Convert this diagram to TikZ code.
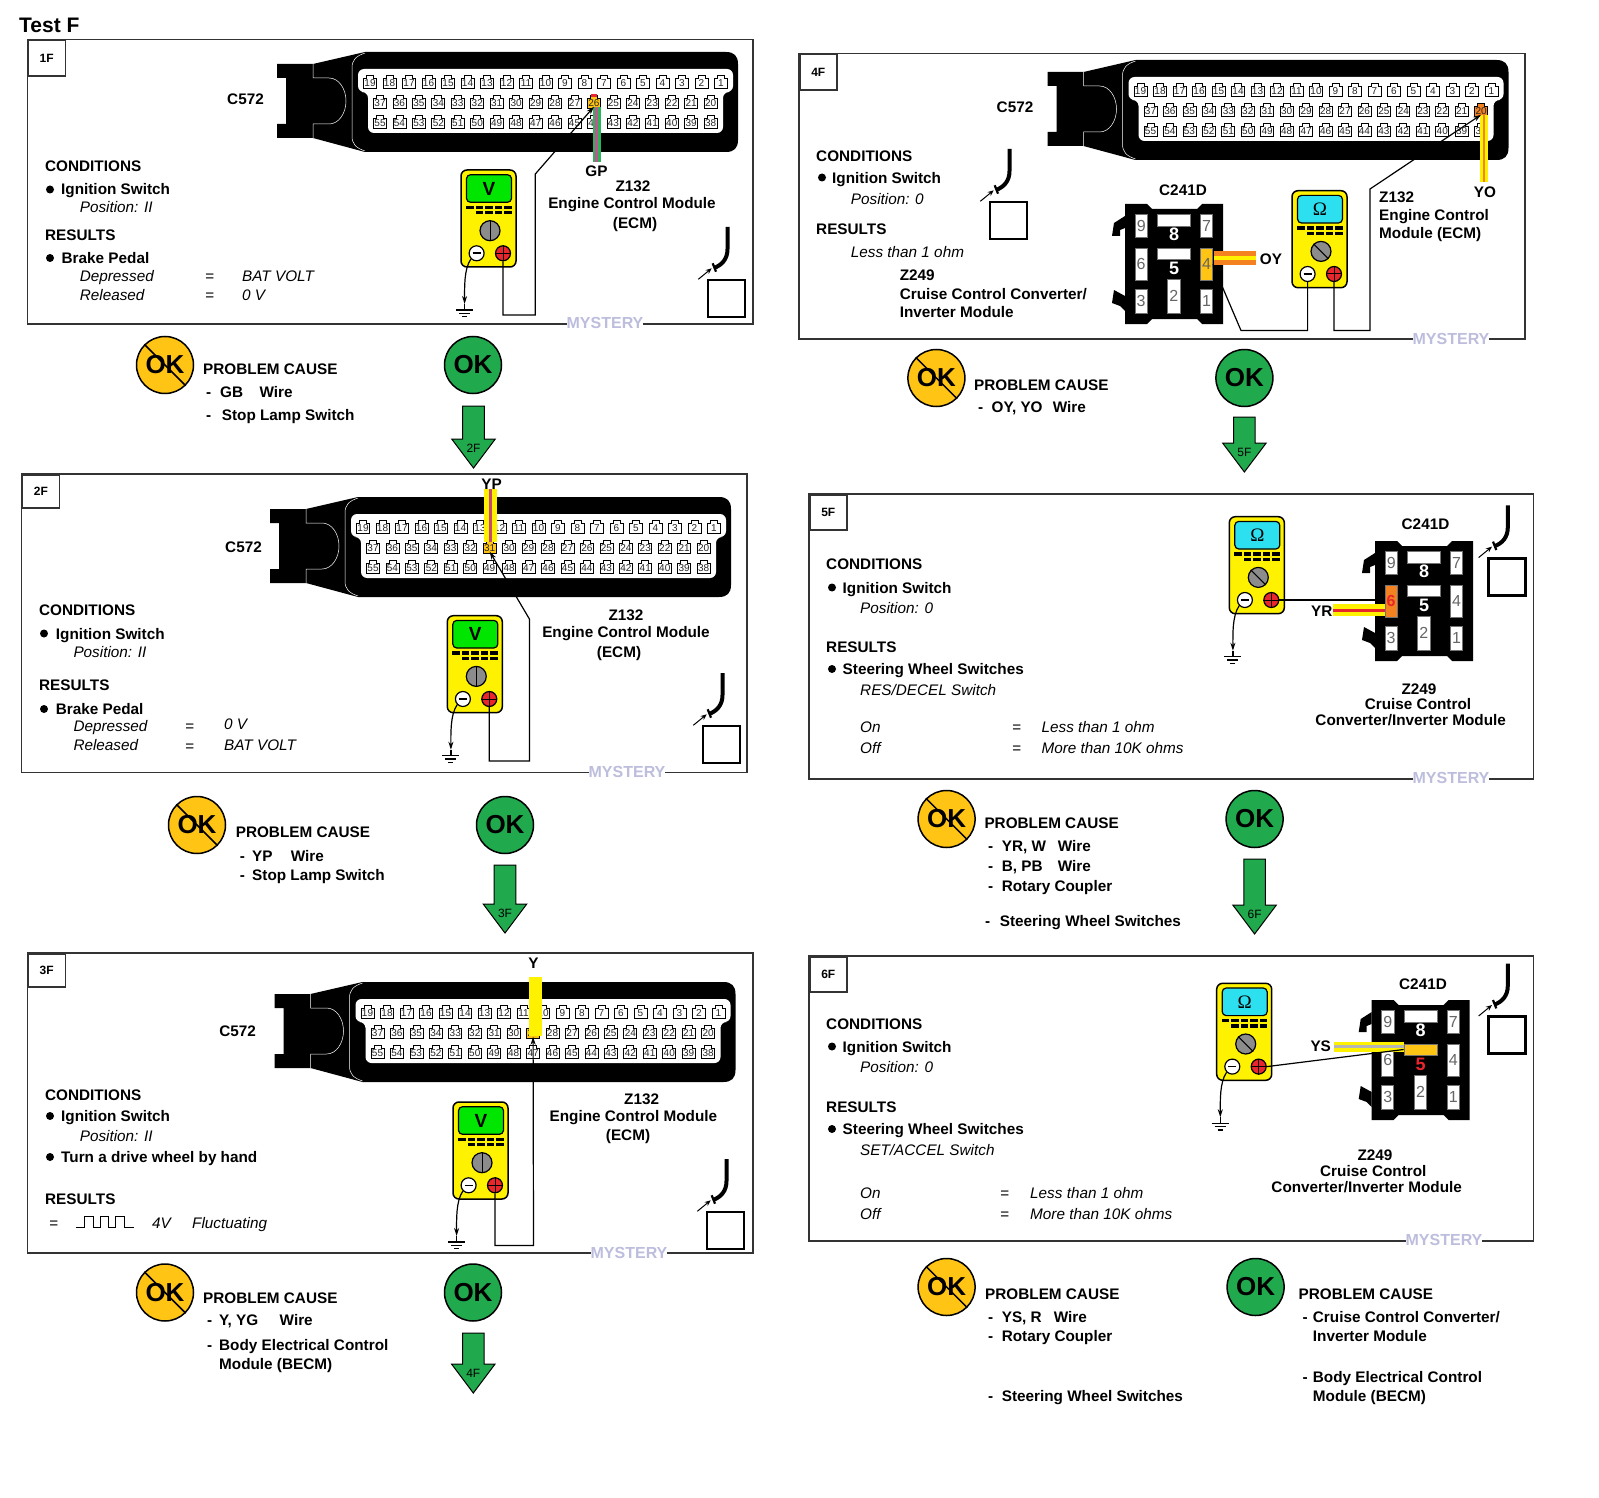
\documentclass[tikz,border=0pt]{standalone}
\usepackage{fontspec}
\setmainfont{Liberation Sans}
\newfontfamily\symfont{Liberation Serif}
\usetikzlibrary{arrows.meta}
\definecolor{amber}{HTML}{FFC414}
\definecolor{okgreen}{HTML}{21AA4D}
\definecolor{myel}{HTML}{FFF200}
\definecolor{scrgreen}{HTML}{00E600}
\definecolor{scrcyan}{HTML}{2CE0F0}
\definecolor{pinred}{HTML}{E8262B}
\definecolor{wired}{HTML}{E8262B}
\definecolor{worange}{HTML}{F58220}
\definecolor{wpink}{HTML}{B85A90}
\definecolor{wgreen}{HTML}{2DB35A}
\definecolor{wgray}{HTML}{B5B5B5}
\definecolor{dig}{HTML}{666666}
\definecolor{wm}{HTML}{BDBDDD}
\definecolor{edge}{HTML}{333333}
\tikzset{
  lab/.style={inner sep=0pt,text height=11pt,text depth=0pt,font=\fontsize{15.3}{15.3}\selectfont\bfseries},
  ital/.style={inner sep=0pt,text height=11pt,text depth=0pt,font=\fontsize{15.3}{15.3}\selectfont\itshape},
  panelbox/.style={draw=edge,line width=1.5pt},
  tagbox/.style={draw=edge,line width=1.5pt,inner sep=0pt,font=\fontsize{12}{12}\selectfont\bfseries},
  wire/.style={draw=black,line width=1.2pt},
  tipped/.style={-{Stealth[length=8pt,width=5pt]}},
  okdisc/.style={circle,draw=black,line width=1.5pt,minimum size=57pt,inner sep=0pt,font=\fontsize{26}{26}\selectfont\bfseries},
  pinnum/.style={inner sep=0pt,text height=7pt,text depth=0pt,text=black!85,font=\fontsize{10}{10}\selectfont},
  slotbox/.style={draw=black!55,line width=.6pt,inner sep=0pt,font=\fontsize{16}{16}\selectfont},
  wmark/.style={fill=white,inner sep=0pt,text=wm,font=\fontsize{16}{16}\selectfont\bfseries},
  pics/conn/.style 2 args={code={
    \fill[black] (0,-38) -- (36,-38) -- (88,-50) -- (449,-50)
       .. controls (457,-50) and (461,-46) .. (461,-38) -- (461,38)
       .. controls (461,46) and (457,50) .. (449,50) -- (88,50)
       -- (36,36) -- (0,36) -- (0,22) -- (9,22) -- (9,-24) -- (0,-24) -- cycle;
    \draw[white,line width=.5pt] (36,-38) -- (36,-24) -- (52,-24)
       .. controls (62,-24) and (69,-13) .. (69,-1)
       .. controls (69,11) and (62,22) .. (52,22) -- (36,22) -- (36,36);
    \draw[white,line width=.5pt] (88,-49) .. controls (79,-46) and (75,-42) .. (75,-34) -- (75,34)
       .. controls (75,42) and (79,46) .. (88,49);
    \fill[white,rounded corners=6pt] (81,-33) -- (456,-33) -- (456,-10) -- (446,-10) -- (446,31) -- (91,31) -- (91,-10) -- (81,-10) -- cycle;
    \def\hlpin{#1}\def\hlcol{#2}%
    \foreach \n [evaluate=\n as \px using {93+(19-\n)*19.5}] in {1,...,19}{\PinAt{\n}{\px}{-19}}
    \foreach \n [evaluate=\n as \px using {103+(37-\n)*19.45}] in {20,...,37}{\PinAt{\n}{\px}{1}}
    \foreach \n [evaluate=\n as \px using {103+(55-\n)*19.45}] in {38,...,55}{\PinAt{\n}{\px}{21}}
  }},
  pics/conntwo/.style n args={3}{code={
    \def\slothl{#1}\def\slotcol{#2}\def\slotstyle{#3}%
    \fill[black] (0,0) -- (22,0) -- (27,5) -- (72,5) -- (77,0) -- (98,0) -- (98,120) -- (77,120) -- (72,115) -- (27,115) -- (22,120) -- (0,120) -- cycle;
    \fill[black] (0,12) -- (-11,19) -- (-13,32) -- (-5,32) -- (-5,26) -- (0,24) -- cycle;
    \fill[black] (0,92) -- (-11,86) -- (-13,99) -- (-5,102) -- (0,107) -- cycle;
    \SlotBox{9}{16.2}{21.8}{12.3}{22.3}{9}
    \SlotBox{8}{49}{16.5}{33.4}{11.6}{}
    \SlotBox{7}{81.5}{21.8}{11.6}{22.3}{7}
    \SlotBox{6}{16}{60}{12}{32}{6}
    \SlotBox{5}{49}{49.5}{33.4}{11}{}
    \SlotBox{4}{81.5}{60}{11.6}{32}{4}
    \SlotBox{3}{16}{97.3}{12}{23.3}{3}
    \SlotBox{2}{48.8}{92.3}{12.3}{33.3}{2}
    \SlotBox{1}{81.5}{97.3}{11.6}{23.3}{1}
    \node[inner sep=0pt,text=white,font=\fontsize{18}{18}\selectfont\bfseries] (-l8) at (49,30.5) {8};
    \ifnum\slothl=5 \def\fivecol{pinred}\else\def\fivecol{white}\fi
    \node[inner sep=0pt,text=\fivecol,font=\fontsize{18}{18}\selectfont\bfseries] (-l5) at (49,64) {5};
  }},
  pics/meter/.style n args={3}{code={
    \path[draw=black,line width=1.5pt,fill=myel,rounded corners=6pt] (0,0) rectangle (55,97);
    \node[draw=black,line width=1.2pt,fill=#1,rounded corners=4pt,minimum width=45pt,minimum height=27.6pt,inner sep=0pt] (-scr) at (28,18.5) {#2};
    \foreach \i in {0,...,4}{\fill[black] ({5+\i*9.5},35.6) rectangle ++(7.5,3.4);}
    \foreach \i in {1,...,4}{\fill[black] ({5+\i*9.5},41) rectangle ++(7.5,3.4);}
    \node[circle,draw=black,line width=1.2pt,fill=black!45,minimum size=20pt,inner sep=0pt] (-knob) at (29,60.7) {};
    \draw[black,line width=1pt] (-knob.#3) -- (-knob.{#3+180});
    \node[circle,draw=black,line width=1.2pt,fill=white,minimum size=15pt,inner sep=0pt] (-minus) at (15.6,83.3) {};
    \draw[black,line width=1.6pt] ([xshift=-4pt]-minus.center) -- ([xshift=4pt]-minus.center);
    \node[circle,draw=black,line width=1.2pt,fill=pinred,minimum size=15pt,inner sep=0pt] (-plus) at (42,83.3) {};
    \draw[black,line width=1pt] (-plus.west) -- (-plus.east) (-plus.north) -- (-plus.south);
    \coordinate (-gnd) at (3.6,134);
  }},
  pics/gndsym/.style={code={
    \draw[black,line width=1.2pt] (-8.6,6) -- (8.4,6) (-5.6,9.3) -- (5.4,9.3) (-2.6,12.6) -- (2.4,12.6);
    \draw[black,line width=1.2pt] (0,0) -- (0,6);
  }},
  pics/ignkey/.style={code={
    \draw[black,line width=2.5pt] (0,0) rectangle (37,37);
    \draw[black,line width=4pt] (19.5,-53) -- (19.5,-31) .. controls (19.5,-21) and (14,-15) .. (6,-12);
    \draw[black,line width=2.2pt] (4.7,-16.7) -- (8,-8.3);
    \draw[black,line width=1pt,-{Stealth[length=6pt,width=5pt]}] (-9.7,-0.7) -- (3.7,-11.7);
  }}
}
\newcommand\PinAt[3]{%
  \ifnum#1=\hlpin\relax\def\pcol{\hlcol}\else\def\pcol{white}\fi
  \path[draw=black,line width=.8pt,fill=\pcol,shift={(#2,#3)}] (-6.5,-4.3) -- (-3.5,-4.3) -- (-3.5,-7.6) -- (3.5,-7.6) -- (3.5,-4.3) -- (6.5,-4.3) -- (6.5,5) -- (-6.5,5) -- cycle;
  \node[pinnum] (-p#1) at (#2,#3) {#1};}
\newcommand\SlotBox[6]{%
  \ifnum#1=\slothl\relax\def\slotfill{\slotcol}\def\slotfmt{\slotstyle}\else\def\slotfill{white}\def\slotfmt{\color{dig}}\fi
  \node[slotbox,fill=\slotfill,minimum width=#4pt,minimum height=#5pt] (-s#1) at (#2,#3) {\slotfmt #6};}
\newcommand\BoldL[4]{\node[lab,anchor=west] (#1) at (#2,#3) {#4};}
\newcommand\ItalL[4]{\node[ital,anchor=west] (#1) at (#2,#3) {#4};}
\newcommand\BoldC[4]{\node[lab] (#1) at (#2,#3) {#4};}
\newcommand\Bul[3]{\node[circle,fill=black,minimum size=8pt,inner sep=0pt] (#1) at (#2,#3) {};}
\newcommand\Panel[7]{%
  \draw[panelbox] (#2,#3) rectangle (#4,#5);
  \node[tagbox,anchor=north west,minimum width=37pt,minimum height=#6pt] (tag#1) at (#2,#3) {#7};}
\newcommand\NoOk[3]{%
  \node[okdisc,fill=amber] (#1) at (#2,#3) {OK};
  \draw[black,line width=1.5pt] (#1.135) -- (#1.-45);}
\newcommand\GoOk[3]{\node[okdisc,fill=okgreen] (#1) at (#2,#3) {OK};}
\newcommand\NextArrow[5]{%
  \draw[fill=okgreen,draw=black,line width=1pt] ({#2-10.8},#3) -- ({#2+10.8},#3) -- ({#2+10.8},{#4-29}) -- ({#2+21.8},{#4-29}) -- (#2,#4) -- ({#2-21.8},{#4-29}) -- ({#2-10.8},{#4-29}) -- cycle;
  \node[inner sep=0pt,font=\fontsize{12}{12}\selectfont] (#1) at (#2,{#4-20}) {#5};}
\newcommand\Stripe[6]{%
  \draw[#3,line width=#4pt] (#1) -- (#2);
  \draw[#5,line width=#6pt] (#1) -- (#2);}
\newcommand\GndWire[1]{\draw[wire,tipped] (#1-minus.south west) .. controls +(-7,10) and +(0,-16) .. (#1-gnd);
  \pic (#1g) at (#1-gnd) {gndsym};}
\newcommand\ScrV{\fontsize{19}{19}\selectfont\bfseries V}
\newcommand\ScrO{{\symfont\fontsize{19}{19}\selectfont Ω}}
\begin{document}
\begin{tikzpicture}[x=1pt,y=-1pt]
\useasboundingbox (0,0) rectangle (1599,1498);
\node[inner sep=0pt,anchor=west,font=\fontsize{21}{21}\selectfont\bfseries] (title) at (19,25) {Test F};

%% ---------- 1F
\Panel{1}{27.5}{39.5}{752.8}{324}{36}{1F}
\pic (c1) at (277,102) {conn={26}{amber}};
\BoldC{c572a}{245.5}{99}{C572}
\fill[wired] (590.7,94) rectangle (596.7,97);
\coordinate (gpA) at (596.7,107); \coordinate (gpB) at (596.7,162);
\Stripe{gpA}{gpB}{wgreen}{8}{wpink}{3}
\BoldC{gp}{596.5}{171}{GP}
\BoldC{z1a}{633}{186}{Z132}
\BoldC{z1b}{632}{203.5}{Engine Control Module}
\BoldC{z1c}{635}{223}{(ECM)}
\pic (m1) at (461,170) {meter={scrgreen}{\ScrV}{90}};
\GndWire{m1}
\coordinate (w1a) at (503,315); \coordinate (w1b) at (535.3,315); \coordinate (w1c) at (535.3,174);
\draw[wire,tipped] (m1-plus.south) -- (w1a) -- (w1b) -- (w1c) -- (c1-p26.south);
\pic (key1) at (708,280) {ignkey};
\BoldL{co1}{45}{166}{CONDITIONS}
\Bul{b1a}{50}{189.5} \BoldL{i1}{61}{189.5}{Ignition Switch}
\ItalL{po1}{79.6}{207}{Position: II}
\BoldL{re1}{45}{235}{RESULTS}
\Bul{b1b}{50}{258} \BoldL{br1}{61.5}{258}{Brake Pedal}
\ItalL{de1}{79.6}{275.7}{Depressed} \ItalL{eq1a}{205}{275.7}{=} \ItalL{v1a}{242}{275.7}{BAT VOLT}
\ItalL{rl1}{79.6}{295}{Released} \ItalL{eq1b}{205}{295}{=} \ItalL{v1b}{242}{295}{0 V}
\node[wmark] (wm1) at (605,323) {MYSTERY};
\NoOk{n1}{165}{365} \GoOk{g1}{473}{365}
\BoldL{pc1}{203}{369}{PROBLEM CAUSE}
\BoldL{d1a}{206}{392}{-} \BoldL{w1x}{220}{392}{GB} \BoldL{w1y}{259.3}{392}{Wire}
\BoldL{d1b}{206}{414.5}{-} \BoldL{w1z}{221.7}{414.5}{Stop Lamp Switch}
\NextArrow{ar2}{473.5}{406}{468}{2F}

%% ---------- 2F
\Panel{2}{21.7}{474}{747}{772.3}{33}{2F}
\pic (c2) at (270,547) {conn={31}{amber}};
\BoldC{c572b}{243.5}{547}{C572}
\coordinate (ypA) at (490.8,489.3); \coordinate (ypB) at (490.8,541.7);
\Stripe{ypA}{ypB}{myel}{13}{wpink!80!red}{3}
\BoldC{yp}{491.7}{483.5}{YP}
\BoldC{z2a}{626}{615}{Z132}
\BoldC{z2b}{626}{632}{Engine Control Module}
\BoldC{z2c}{619}{652}{(ECM)}
\pic (m2) at (447.3,615.7) {meter={scrgreen}{\ScrV}{90}};
\GndWire{m2}
\coordinate (w2a) at (489.3,761); \coordinate (w2b) at (529.4,761); \coordinate (w2c) at (529.4,619);
\draw[wire,tipped] (m2-plus.south) -- (w2a) -- (w2b) -- (w2c) -- (c2-p31.south);
\pic (key2) at (703,726) {ignkey};
\BoldL{co2}{39}{609.5}{CONDITIONS}
\Bul{b2a}{44}{633.5} \BoldL{i2}{55.7}{633.5}{Ignition Switch}
\ItalL{po2}{73.3}{651.7}{Position: II}
\BoldL{re2}{39}{685}{RESULTS}
\Bul{b2b}{44}{709} \BoldL{br2}{55.7}{709}{Brake Pedal}
\ItalL{de2}{73.3}{726}{Depressed} \ItalL{eq2a}{185}{726}{=} \ItalL{v2a}{224}{724}{0 V}
\ItalL{rl2}{73.3}{745.3}{Released} \ItalL{eq2b}{185}{746}{=} \ItalL{v2b}{224}{745.3}{BAT VOLT}
\node[wmark] (wm2) at (627,772) {MYSTERY};
\NoOk{n2}{197}{825} \GoOk{g2}{505}{825}
\BoldL{pc2}{235.6}{832}{PROBLEM CAUSE}
\BoldL{d2a}{239.7}{856}{-} \BoldL{w2x}{252}{856}{YP} \BoldL{w2y}{290.7}{856}{Wire}
\BoldL{d2b}{239.7}{875}{-} \BoldL{w2z}{252}{875}{Stop Lamp Switch}
\NextArrow{ar3}{505}{865}{933}{3F}

%% ---------- 3F
\Panel{3}{27.5}{953}{752.8}{1253}{33}{3F}
\pic (c3) at (274.5,1032) {conn={29}{amber}};
\BoldC{c572c}{237.7}{1031}{C572}
\coordinate (yA) at (535,977); \coordinate (yB) at (535,1036);
\draw[myel,line width=13pt] (yA) -- (yB);
\BoldC{y3}{533.5}{963}{Y}
\BoldC{z3a}{641.6}{1098.5}{Z132}
\BoldC{z3b}{633.4}{1116}{Engine Control Module}
\BoldC{z3c}{628}{1135}{(ECM)}
\pic (m3) at (453,1102) {meter={scrgreen}{\ScrV}{90}};
\GndWire{m3}
\coordinate (w3a) at (495,1245.5); \coordinate (w3b) at (533.5,1245.5);
\draw[wire,tipped] (m3-plus.south) -- (w3a) -- (w3b) -- (c3-p29.south);
\pic (key3) at (707,1212) {ignkey};
\BoldL{co3}{45}{1094.5}{CONDITIONS}
\Bul{b3a}{50}{1116} \BoldL{i3}{61}{1116}{Ignition Switch}
\ItalL{po3}{79.6}{1136}{Position: II}
\Bul{b3b}{50}{1157} \BoldL{tu3}{61}{1157}{Turn a drive wheel by hand}
\BoldL{re3}{45}{1198.5}{RESULTS}
\ItalL{eq3}{49}{1223}{=}
\draw[black,line width=.9pt] (75.5,1227) -- (84,1227) -- (84,1216) -- (93,1216) -- (93,1227) -- (100,1227) -- (100,1216) -- (108,1216) -- (108,1227) -- (115,1227) -- (115,1216) -- (124,1216) -- (124,1227) -- (133.6,1227);
\ItalL{v3}{152}{1223}{4V}
\ItalL{fl3}{192}{1223}{Fluctuating}
\node[wmark] (wm3) at (629,1253) {MYSTERY};
\NoOk{n3}{165}{1292.5} \GoOk{g3}{473}{1292.5}
\BoldL{pc3}{203}{1297.5}{PROBLEM CAUSE}
\BoldL{d3a}{207}{1320}{-} \BoldL{w3x}{219}{1320}{Y, YG} \BoldL{w3y}{279.5}{1320}{Wire}
\BoldL{d3b}{207}{1345}{-} \BoldL{w3z}{219}{1345}{Body Electrical Control}
\BoldL{w3u}{219}{1364}{Module (BECM)}
\NextArrow{ar4}{473.3}{1333}{1393}{4F}

%% ---------- 4F
\Panel{4}{799}{53.5}{1525}{339}{36}{4F}
\pic (c4) at (1047.5,110) {conn={20}{worange}};
\BoldC{c572d}{1015}{107}{C572}
\coordinate (yoA) at (1484,115); \coordinate (yoB) at (1484,182);
\Stripe{yoA}{yoB}{myel}{8}{worange}{2.5}
\BoldC{yo}{1485}{192}{YO}
\BoldL{z4a}{1379}{197}{Z132}
\BoldL{z4b}{1379}{215}{Engine Control}
\BoldL{z4c}{1379}{233.5}{Module (ECM)}
\BoldC{c241a}{1183}{190}{C241D}
\pic (k4) at (1125,204) {conntwo={4}{amber}{\color{dig}}};
\coordinate (oyA) at (1214,258); \coordinate (oyB) at (1256,258);
\Stripe{oyA}{oyB}{worange}{14}{myel}{4.5}
\BoldC{oy}{1271}{259}{OY}
\pic (m4) at (1292,190.7) {meter={scrcyan}{\ScrO}{135}};
\coordinate (w4a) at (1241,330.5); \coordinate (w4b) at (1307.6,330.5);
\draw[wire,tipped] (m4-minus.south) -- (w4b) -- (w4a) -- (k4-s4.east);
\coordinate (w4c) at (1334,330.5); \coordinate (w4d) at (1370,330.5); \coordinate (w4e) at (1370,189);
\draw[wire,tipped] (m4-plus.south) -- (w4c) -- (w4d) -- (w4e) -- (c4-p20.south);
\pic (key4) at (990,202) {ignkey};
\BoldL{co4}{816}{156}{CONDITIONS}
\Bul{b4a}{822}{177.5} \BoldL{i4}{832}{178.5}{Ignition Switch}
\ItalL{po4}{850.7}{199}{Position: 0}
\BoldL{re4}{816}{229.5}{RESULTS}
\ItalL{le4}{850.7}{252}{Less than 1 ohm}
\BoldL{za4}{899.6}{275.4}{Z249}
\BoldL{zb4}{899.6}{293.8}{Cruise Control Converter/}
\BoldL{zc4}{899.6}{312}{Inverter Module}
\node[wmark] (wm4) at (1451,339) {MYSTERY};
\NoOk{n4}{936.4}{378} \GoOk{g4}{1244.4}{378}
\BoldL{pc4}{974}{384.5}{PROBLEM CAUSE}
\BoldL{d4a}{978}{407}{-} \BoldL{w4x}{991.4}{407}{OY, YO} \BoldL{w4y}{1052.6}{407}{Wire}
\NextArrow{ar5}{1244.4}{417}{472}{5F}

%% ---------- 5F
\Panel{5}{809}{494}{1533.5}{779}{35}{5F}
\pic (k5) at (1375,541) {conntwo={6}{worange}{\bfseries\color{pinred}}};
\BoldC{c241b}{1425.5}{524}{C241D}
\coordinate (yrA) at (1332.7,610); \coordinate (yrB) at (1385,610);
\Stripe{yrA}{yrB}{myel}{11.4}{wired}{3}
\BoldC{yr}{1321.7}{611}{YR}
\pic (m5) at (1229.3,516.7) {meter={scrcyan}{\ScrO}{135}};
\GndWire{m5}
\draw[wire,tipped] (m5-plus.east) -- (m5-plus.east -| k5-s6.west);
\pic (key5) at (1488.3,558.3) {ignkey};
\BoldL{co5}{826}{564}{CONDITIONS}
\Bul{b5a}{832}{587.5} \BoldL{i5}{842.5}{587.5}{Ignition Switch}
\ItalL{po5}{860}{608}{Position: 0}
\BoldL{re5}{826}{646.7}{RESULTS}
\Bul{b5b}{832}{669} \BoldL{st5}{842.5}{669}{Steering Wheel Switches}
\ItalL{rs5}{860}{689.5}{RES/DECEL Switch}
\ItalL{on5}{860}{727}{On} \ItalL{eq5a}{1012}{727}{=} \ItalL{l5}{1041.4}{727}{Less than 1 ohm}
\ItalL{of5}{860}{747.7}{Off} \ItalL{eq5b}{1012}{747.7}{=} \ItalL{m5t}{1041.4}{747.7}{More than 10K ohms}
\BoldC{za5}{1419}{688.5}{Z249}
\BoldC{zb5}{1418}{704}{Cruise Control}
\BoldC{zc5}{1410.7}{720}{Converter/Inverter Module}
\node[wmark] (wm5) at (1451,778) {MYSTERY};
\NoOk{n5}{946.6}{819} \GoOk{g5}{1254.6}{819}
\BoldL{pc5}{984.3}{823}{PROBLEM CAUSE}
\BoldL{d5a}{988}{845.6}{-} \BoldL{w5x}{1001.6}{845.6}{YR, W} \BoldL{w5y}{1057.7}{845.6}{Wire}
\BoldL{d5b}{988}{866}{-} \BoldL{w5z}{1001.6}{866}{B, PB} \BoldL{w5u}{1057.7}{866}{Wire}
\BoldL{d5c}{988}{886.4}{-} \BoldL{w5v}{1001.6}{886.4}{Rotary Coupler}
\BoldL{d5d}{985}{921}{-} \BoldL{w5s}{999.6}{921}{Steering Wheel Switches}
\NextArrow{ar6}{1254.6}{859}{934}{6F}

%% ---------- 6F
\Panel{6}{809}{956}{1533.5}{1241}{35}{6F}
\pic (k6) at (1371.7,1000) {conntwo={5}{amber}{}};
\BoldC{c241c}{1423}{984}{C241D}
\coordinate (ysA) at (1334,1046.7); \coordinate (ysB) at (1404,1046.7);
\Stripe{ysA}{ysB}{myel}{10}{wgray}{3}
\BoldC{ys}{1320.7}{1046}{YS}
\pic (m6) at (1216.7,983.3) {meter={scrcyan}{\ScrO}{135}};
\GndWire{m6}
\draw[wire] (m6-plus.east) -- (k6-s5.west);
\pic (key6) at (1488.3,1016.7) {ignkey};
\BoldL{co6}{826}{1024}{CONDITIONS}
\Bul{b6a}{832}{1046.5} \BoldL{i6}{842.5}{1046.5}{Ignition Switch}
\ItalL{po6}{860}{1067}{Position: 0}
\BoldL{re6}{826}{1106.7}{RESULTS}
\Bul{b6b}{832}{1129} \BoldL{st6}{842.5}{1129}{Steering Wheel Switches}
\ItalL{rs6}{860}{1149.5}{SET/ACCEL Switch}
\ItalL{on6}{860}{1193}{On} \ItalL{eq6a}{1000}{1193}{=} \ItalL{l6}{1030}{1193}{Less than 1 ohm}
\ItalL{of6}{860}{1214}{Off} \ItalL{eq6b}{1000}{1214}{=} \ItalL{m6t}{1030}{1214}{More than 10K ohms}
\BoldC{za6}{1375}{1155}{Z249}
\BoldC{zb6}{1373.3}{1170.7}{Cruise Control}
\BoldC{zc6}{1366.7}{1186.7}{Converter/Inverter Module}
\node[wmark] (wm6) at (1444,1240) {MYSTERY};
\NoOk{n6}{946.6}{1287} \GoOk{g6}{1255.6}{1287}
\BoldL{pc6}{985}{1294.4}{PROBLEM CAUSE}
\BoldL{d6a}{988}{1317}{-} \BoldL{w6x}{1001.6}{1317}{YS, R} \BoldL{w6y}{1053.7}{1317}{Wire}
\BoldL{d6b}{988}{1336}{-} \BoldL{w6z}{1001.6}{1336}{Rotary Coupler}
\BoldL{d6c}{988}{1396.4}{-} \BoldL{w6s}{1001.6}{1396.4}{Steering Wheel Switches}
\BoldL{pc7}{1298.5}{1294.4}{PROBLEM CAUSE}
\BoldL{d7a}{1302.5}{1317}{-} \BoldL{c7a}{1312.7}{1317}{Cruise Control Converter/}
\BoldL{c7b}{1312.7}{1336}{Inverter Module}
\BoldL{d7b}{1302.5}{1377}{-} \BoldL{c7c}{1312.7}{1377}{Body Electrical Control}
\BoldL{c7d}{1312.7}{1396.4}{Module (BECM)}
\end{tikzpicture}
\end{document}
